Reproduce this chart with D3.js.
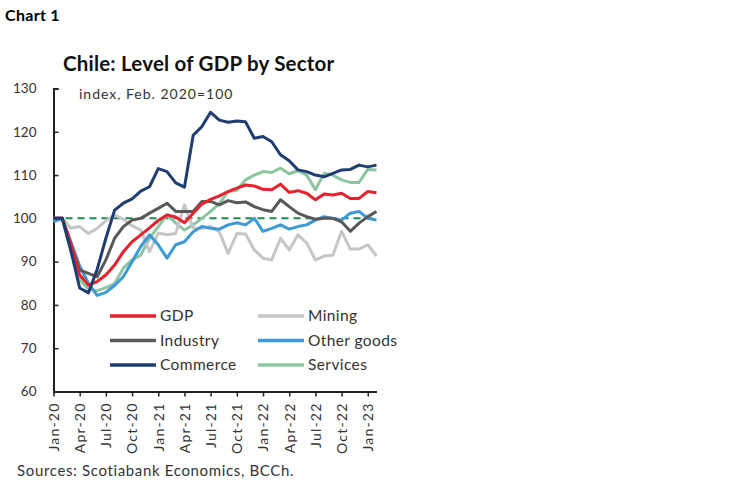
<!DOCTYPE html>
<html>
<head>
<meta charset="utf-8">
<script src="https://cdn.jsdelivr.net/npm/d3@7"></script>
<style>
  body { margin: 0; background: #fff; }
  svg { display: block; font-family: Lato, "Open Sans", sans-serif; }
</style>
</head>
<body>
<div id="chart"></div>
<script>
// monthly, Jan-20 .. Feb-23
const months = ["Jan-20","Feb-20","Mar-20","Apr-20","May-20","Jun-20","Jul-20","Aug-20","Sep-20","Oct-20","Nov-20","Dec-20",
  "Jan-21","Feb-21","Mar-21","Apr-21","May-21","Jun-21","Jul-21","Aug-21","Sep-21","Oct-21","Nov-21","Dec-21",
  "Jan-22","Feb-22","Mar-22","Apr-22","May-22","Jun-22","Jul-22","Aug-22","Sep-22","Oct-22","Nov-22","Dec-22",
  "Jan-23","Feb-23"];

const gdp = [100,100,94.2,86.9,84.6,85.4,86.9,89.2,92.3,94.6,96.2,97.8,
  99.5,100.8,100.3,99,101.2,103.3,104.4,105.2,106.2,107,107.7,107.5,
  106.7,106.6,107.9,106,106.4,105.8,104.3,105.6,105.4,105.8,104.6,104.6,
  106.2,105.9];
const mining = [99.5,100,97.7,98.1,96.5,97.7,99.5,100.8,99.8,98.3,97.3,92.3,
  96.6,96.2,96.5,103.1,97.8,97.7,98.1,96.9,91.9,96.5,96.4,92.7,
  90.8,90.4,95.4,92.7,96.2,94.3,90.4,91.3,91.5,97,92.9,92.9,
  93.9,91.3];
const industry = [100,100,93.8,88.1,87.3,86.5,90.4,95.4,98.1,99.6,100,101.2,
  102.3,103.5,101.6,101.6,101.6,103.9,103.9,103.1,104.1,103.6,103.8,102.7,
  102,101.6,104.3,102.7,101.2,100.4,99.8,100,100,99.2,97,98.9,
  100.4,101.6];
const otherGoods = [99.2,100,94.5,89,85,82.2,82.9,84.5,86.5,90,93.5,96.2,
  93.9,90.8,93.9,94.6,96.9,98.1,97.7,97.5,98.5,99,98.5,100,
  97,97.7,98.5,97.5,98.1,98.5,99.6,100.4,100,99.6,101.2,101.6,
  100,99.6];
const commerce = [100,100,92.5,83.9,82.8,88.2,95.4,101.9,103.5,104.5,106.3,107.3,
  111.5,110.8,108.2,107.2,119.2,121.2,124.5,122.7,122.2,122.5,122.3,118.5,
  118.9,117.7,114.7,113.3,111.2,110.8,110,109.6,110.4,111.2,111.3,112.3,
  111.9,112.3];
const services = [100,100,92.3,85.8,83.6,83.3,84,84.9,88.5,90.4,91.5,95.4,
  98.1,100.8,98.9,97.3,98.5,100,101.6,103.4,106.2,106.5,108.9,110,
  110.8,110.6,111.6,110.3,111,110,106.6,110.4,110,108.9,108.3,108.3,
  111.3,111.2];

const yTicks = [60,70,80,90,100,110,120,130];
const seriesNames = ["GDP","Mining","Industry","Other goods","Commerce","Services"];
const seriesColors = ["#e8212e","#c6c6c6","#595959","#3d9ad6","#1f3d72","#8cc6a1"];

const series = [
  {name: "Services", values: services},
  {name: "Mining", values: mining},
  {name: "Other goods", values: otherGoods},
  {name: "Industry", values: industry},
  {name: "GDP", values: gdp},
  {name: "Commerce", values: commerce}
];
const color = d3.scaleOrdinal(seriesNames, seriesColors);

const width = 748, height = 483;
const svg = d3.select("#chart").append("svg")
    .attr("width", width)
    .attr("height", height);

const x = d3.scaleLinear().domain([0, months.length - 1]).range([53.5, 376.5]);
const y = d3.scaleLinear().domain([60, 130]).range([391.5, 88.5]);

svg.append("text").attr("x", 5).attr("y", 21)
    .attr("font-weight", 700).attr("font-size", 16).attr("fill", "#000")
    .attr("letter-spacing", 0.3)
    .text("Chart 1");
svg.append("text").attr("x", 63).attr("y", 71)
    .attr("font-weight", 700).attr("font-size", 20.5).attr("fill", "#111")
    .attr("letter-spacing", 0.2)
    .text("Chile: Level of GDP by Sector");
svg.append("text").attr("x", 79).attr("y", 99)
    .attr("font-size", 14).attr("fill", "#333")
    .attr("letter-spacing", 1)
    .text("index, Feb. 2020=100");

// y axis
const yAxis = svg.append("g")
    .attr("transform", `translate(${x(0)},0)`)
    .call(d3.axisLeft(y).tickValues(yTicks).tickSize(-5).tickPadding(17));
yAxis.select(".domain").attr("stroke", "#222").attr("stroke-width", 2);
yAxis.selectAll(".tick line").attr("stroke", "#222").attr("stroke-width", 1.5);
yAxis.selectAll(".tick text").attr("font-size", 13.5).attr("fill", "#333")
    .attr("font-family", "Lato, sans-serif");

// x axis
const xAxis = svg.append("g")
    .attr("transform", `translate(0,${y(60)})`)
    .call(d3.axisBottom(x).tickValues(d3.range(0, months.length, 3))
      .tickFormat(i => months[i]).tickSize(5).tickSizeOuter(0));
xAxis.select(".domain").attr("stroke", "#222").attr("stroke-width", 2);
xAxis.selectAll(".tick line").attr("stroke", "#222").attr("stroke-width", 1.5);
xAxis.selectAll(".tick text")
    .attr("font-size", 14).attr("fill", "#333").attr("font-family", "Lato, sans-serif")
    .attr("letter-spacing", 1.2)
    .attr("text-anchor", "end")
    .attr("transform", "rotate(-90)")
    .attr("x", -11).attr("y", 0).attr("dy", "0.35em");

// reference line at 100
svg.append("line")
    .attr("x1", x(0)).attr("x2", x(months.length - 1))
    .attr("y1", y(100)).attr("y2", y(100))
    .attr("stroke", "#1b8a4c").attr("stroke-width", 2)
    .attr("stroke-dasharray", "7,5");

const line = d3.line()
    .x((d, i) => x(i))
    .y(d => y(d));

svg.append("g").selectAll("path")
  .data(series)
  .join("path")
    .attr("fill", "none")
    .attr("stroke", d => color(d.name))
    .attr("stroke-width", 3)
    .attr("stroke-linejoin", "round")
    .attr("d", d => line(d.values));

// legend
const legend = svg.append("g");
const item = legend.selectAll("g")
  .data(seriesNames)
  .join("g")
    .attr("transform", (d, i) => `translate(${i % 2 ? 258 : 110},${316 + Math.floor(i / 2) * 24.5})`);
item.append("line")
    .attr("x1", 0).attr("x2", 46)
    .attr("stroke", d => color(d)).attr("stroke-width", 3.5);
item.append("text")
    .attr("x", 50).attr("dy", "0.35em")
    .attr("font-size", 15.5).attr("fill", "#333")
    .attr("letter-spacing", 0.4)
    .text(d => d);

svg.append("text").attr("x", 17).attr("y", 476)
    .attr("font-size", 15).attr("fill", "#333")
    .attr("letter-spacing", 0.65)
    .text("Sources: Scotiabank Economics, BCCh.");
</script>
</body>
</html>
